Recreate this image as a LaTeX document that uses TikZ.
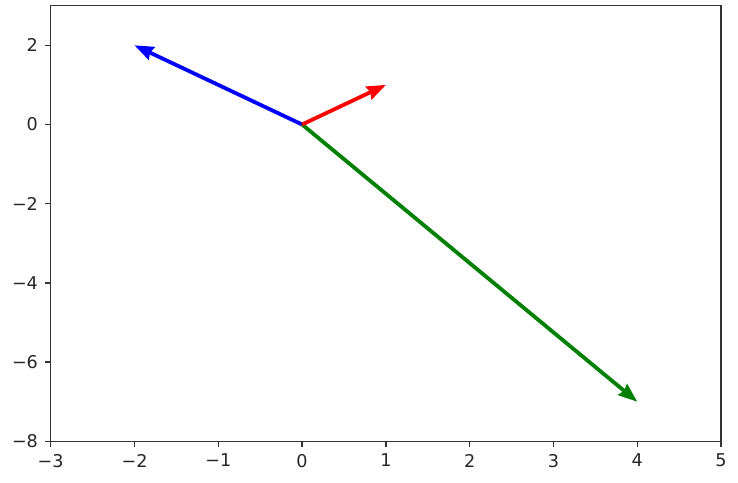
\documentclass[tikz,border=0pt]{standalone}
\usepackage{fontspec}
\setmainfont{DejaVu Sans}
\usetikzlibrary{arrows.meta}
\definecolor{mplgreen}{RGB}{0,128,0}
\tikzset{
  spine/.style={draw=black!80,line width=0.75pt},
  tickmark/.style={black!80,line width=0.75pt},
  ticklbl/.style={font=\fontsize{8.8}{10}\selectfont,text=black!85,inner sep=0pt},
  quiv/.style={line width=1.9pt,-{Stealth[length=9.5pt,width=7pt,inset=1pt]}},
}

\begin{document}
\begin{tikzpicture}[x=41.9pt,y=19.8pt]
  \useasboundingbox (-3.605,-9.043) rectangle (5.202,3.144);
  % axes frame
  \draw[spine] (-3,-8) rectangle (5,3);
  \foreach \t/\lab in {-3/−3,-2/−2,-1/−1,0/0,1/1,2/2,3/3,4/4,5/5}
    \draw[tickmark] (\t,-8) -- ++(0,-3pt) node[ticklbl,anchor=north,yshift=-3pt] (xl\t) {\lab};
  \foreach \t/\lab in {-8/−8,-6/−6,-4/−4,-2/−2,0/0,2/2}
    \draw[tickmark] (-3,\t) -- ++(-3pt,0) node[ticklbl,anchor=east,xshift=-3pt] (yl\t) {\lab};
  % vectors
  \coordinate (o) at (0,0);
  \coordinate (vb) at (-2,2);
  \coordinate (vg) at (4,-7);
  \coordinate (vr) at (1,1);
  \draw[quiv,blue] (o) -- (vb);
  \draw[quiv,mplgreen] (o) -- (vg);
  \draw[quiv,red] (o) -- (vr);
\end{tikzpicture}
\end{document}
